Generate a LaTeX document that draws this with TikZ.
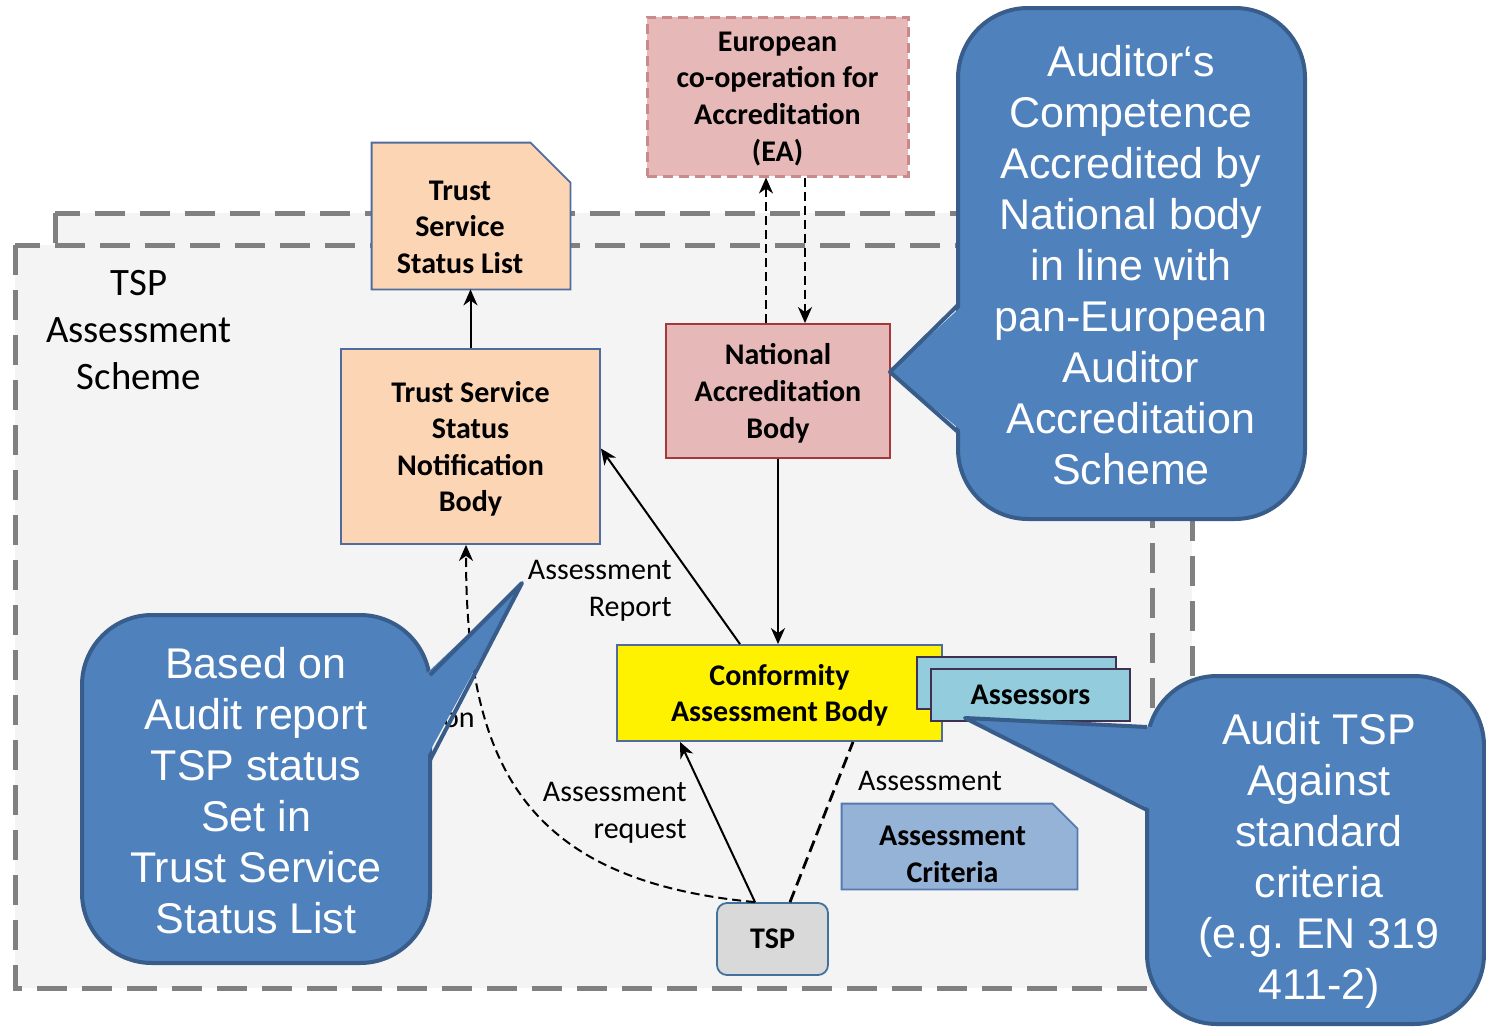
\documentclass[tikz,border=0pt]{standalone}
\usepackage{fontspec}
\setmainfont{Carlito}
\newfontfamily\calloutfont{Liberation Sans}
\frenchspacing
\usetikzlibrary{arrows.meta}
\definecolor{framegray}{HTML}{808080}
\definecolor{framefill}{HTML}{F4F4F4}
\definecolor{boxline}{HTML}{4F6C9E}
\definecolor{peach}{HTML}{FCD5B5}
\definecolor{rosefill}{HTML}{E6B9B8}
\definecolor{roseline}{HTML}{A3393A}
\definecolor{roseborder}{HTML}{C98A8B}
\definecolor{assessfill}{HTML}{93CDDD}
\definecolor{assessline}{HTML}{403152}
\definecolor{critfill}{HTML}{95B3D7}
\definecolor{critline}{HTML}{5579B0}
\definecolor{tspfill}{HTML}{D9D9D9}
\definecolor{tspline}{HTML}{41719C}
\definecolor{calloutfill}{HTML}{4F81BD}
\definecolor{calloutline}{HTML}{385D8A}
\begin{document}
\begin{tikzpicture}[x=0.5pt,y=-0.5pt,
    box/.style={draw=boxline,line width=0.9pt,align=center,inner sep=0pt,text depth=0pt,font=\fontsize{15}{18.3}\selectfont\bfseries},
    boxtext/.style={align=center,inner sep=0pt,text depth=0pt,font=\fontsize{15}{18.3}\selectfont\bfseries},
    lbl/.style={align=right,inner sep=0pt,font=\fontsize{15}{18.5}\selectfont},
    arr/.style={line width=1pt,-{Stealth[length=8pt,width=7pt,inset=2.5pt]}},
    darr/.style={arr,dash pattern=on 4.5pt off 2.5pt},
    frame/.style={fill=framefill,draw=framegray,line width=2.5pt,dash pattern=on 15pt off 7.5pt},
    callout/.style={fill=calloutfill,draw=calloutline,line width=2pt,line join=round},
    callouttext/.style={align=center,text=white,inner sep=0pt,font=\calloutfont\fontsize{21.5}{25.5}\selectfont}]
  \useasboundingbox (0,0) rectangle (1486,1028);
  \draw[frame] (55,213) rectangle (1192,956);
  \draw[frame] (15,245) rectangle (1152,988);
  \node[align=center,font=\fontsize{19.4}{23.5}\selectfont] (scheme) at (139,330) {TSP\\Assessment\\Scheme};

  \node[inner sep=0pt,minimum width=99pt,minimum height=73pt] (tssl) at (471,216) {};
  \draw[fill=peach,draw=boxline,line width=0.9pt] (tssl.south west) -- (tssl.north west)
    -- ([xshift=-20pt]tssl.north east) -- ([yshift=-20pt]tssl.north east) -- (tssl.south east) -- cycle;
  \node[boxtext] (tssltext) at ([xshift=-5.5pt,yshift=-5.5pt]tssl.center) {Trust\\Service\\Status List};
  \node[box,fill=peach,minimum width=129.5pt,minimum height=97.5pt] (tssnb) at (470.5,446.5)
    {Trust Service\\Status\\Notification\\Body};
  \node[box,fill=rosefill,draw=roseborder,line width=1.5pt,dash pattern=on 5pt off 3pt,
        minimum width=130.5pt,minimum height=79.5pt] (ea) at (777.5,96.5)
    {European\\co-operation for\\Accreditation\\(EA)};
  \node[box,fill=rosefill,draw=roseline,minimum width=112pt,minimum height=67pt] (nab) at (778,391)
    {National\\Accreditation\\Body};
  \node[box,fill=yellow,minimum width=162.5pt,minimum height=48pt] (cab) at (779.5,693)
    {Conformity\\Assessment Body};
  \node[box,fill=assessfill,draw=assessline,minimum width=99.5pt,minimum height=26pt] (assessback) at (1016.5,683) {};
  \node[box,fill=assessfill,draw=assessline,minimum width=99.5pt,minimum height=26pt] (assessors) at (1030.5,695) {Assessors};
  \node[inner sep=0pt,minimum width=117.5pt,minimum height=42.5pt] (crit) at (959.5,846.5) {};
  \draw[fill=critfill,draw=critline,line width=0.9pt] (crit.south west) -- (crit.north west)
    -- ([xshift=-12.5pt]crit.north east) -- ([yshift=-12.5pt]crit.north east) -- (crit.south east) -- cycle;
  \node[boxtext] (crittext) at ([xshift=-3.5pt,yshift=-3.75pt]crit.center) {Assessment\\Criteria};
  \node[box,fill=tspfill,draw=tspline,rounded corners=5pt,minimum width=55.5pt,minimum height=36pt] (tsp) at (772.5,939) {TSP};

  \draw[arr] (tssnb.north) -- (tssnb.north |- tssl.south);
  \draw[darr] ([xshift=-6pt]nab.north) -- ([xshift=-6pt]nab.north |- ea.south);
  \draw[darr] ([xshift=13.5pt]nab.north |- ea.south) -- ([xshift=13.5pt]nab.north);
  \draw[arr] (nab.south) -- (nab.south |- cab.north);
  \draw[arr] ([xshift=-19.75pt]cab.north) -- ([yshift=-1pt]tssnb.east);
  \draw[arr] ([xshift=-8.75pt]tsp.north) -- ([xshift=-49.75pt]cab.south);
  \draw[line width=1.4pt,dash pattern=on 6pt off 3pt] ([xshift=8.75pt]tsp.north) -- ([xshift=36.75pt]cab.south);
  \draw[darr] ([xshift=-8.75pt]tsp.north) .. controls (520,880) and (466,760) .. ([xshift=-2.25pt]tssnb.south);
  \node[lbl,anchor=east] (reportlbl) at (672,591) {Assessment\\Report};
  \node[lbl,anchor=east] (requestlbl) at (687,813) {Assessment\\request};
  \node[lbl] (assesslbl) at (930,781) {Assessment};
  \node[lbl,anchor=east] (notiflbl) at (475,720) {on};

  \draw[callout,rounded corners=35pt] (958,8) rectangle (1305,519);
  \fill[calloutfill] (963,305) -- (890,372) -- (963,432) -- cycle;
  \draw[callout,fill=none] (958,305) -- (890,372) -- (958,432);
  \node[callouttext] (auditornote) at (1131,265)
    {Auditor‘s\\Competence\\Accredited by\\National body\\in line with\\pan-European\\Auditor\\Accreditation\\Scheme};

  \draw[callout,rounded corners=35pt] (82,615) rectangle (430,963);
  \fill[calloutfill] (425,675) -- (522,583) -- (425,760) -- cycle;
  \draw[callout,fill=none] (430,675) -- (522,583) -- (430,760);
  \node[callouttext] (basednote) at (256,791)
    {Based on\\Audit report\\TSP status\\Set in\\Trust Service\\Status List};

  \draw[callout,rounded corners=35pt] (1147,676) rectangle (1484,1024);
  \fill[calloutfill] (1152,727) -- (965,718) -- (1152,810) -- cycle;
  \draw[callout,fill=none] (1147,727) -- (965,718) -- (1147,810);
  \node[callouttext] (auditnote) at (1319,861)
    {Audit TSP\\Against\\standard\\criteria\\(e.g. EN 319\\411-2)};
\end{tikzpicture}
\end{document}
